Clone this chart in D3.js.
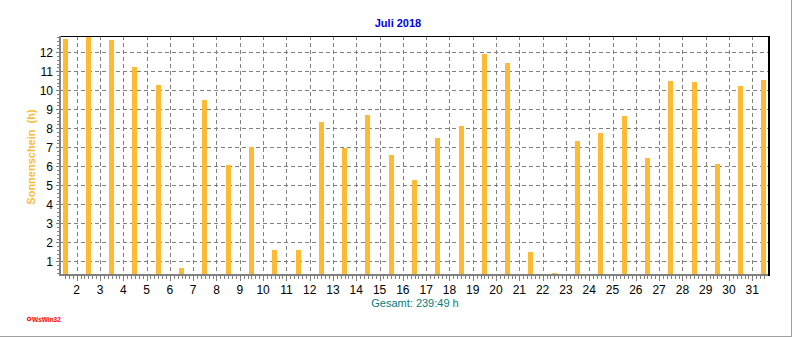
<!DOCTYPE html>
<html>
<head>
<meta charset="utf-8">
<title>Juli 2018</title>
<script src="https://cdn.jsdelivr.net/npm/d3@7"></script>
<style>
  html, body { margin: 0; padding: 0; background: #fff; }
  svg { display: block; font-family: "Liberation Sans", Arial, sans-serif; }
</style>
</head>
<body>
<svg id="chart" width="792" height="337"></svg>
<script>
// Daily sunshine duration, July 2018 (hours)
const days = [1, 2, 3, 4, 5, 6, 7, 8, 9, 10, 11, 12, 13, 14, 15, 16,
              17, 18, 19, 20, 21, 22, 23, 24, 25, 26, 27, 28, 29, 30, 31];
const sunHours = [12.70, 12.82, 12.65, 11.23, 10.28, 0.65, 9.49, 6.07, 7.00, 1.60,
                  1.60, 8.33, 6.96, 8.70, 6.60, 5.28, 7.49, 8.12, 11.91, 11.44,
                  1.49, 0.40, 7.33, 7.74, 8.65, 6.44, 10.49, 10.44, 6.12, 10.23, 10.54];
const xTickLabels = [2, 3, 4, 5, 6, 7, 8, 9, 10, 11, 12, 13, 14, 15, 16, 17,
                     18, 19, 20, 21, 22, 23, 24, 25, 26, 27, 28, 29, 30, 31];
const yTickLabels = [1, 2, 3, 4, 5, 6, 7, 8, 9, 10, 11, 12];
const titleText = "Juli 2018";
const yAxisTitle = "Sonnenschein\u00a0 (h)";
const totalText = "Gesamt: 239:49 h";
const creditText = "WsWin32";

const W = 792, H = 337;
const plot = { left: 60, right: 768, top: 36, bottom: 274 };
const barColor = "#ffba33";
const gridColor = "#808080";

const svg = d3.select("#chart");

// Day d starts at x(d); a bar for day d sits in the middle of its day
const x = d3.scaleLinear().domain([2, 31]).range([76.7, 752.3]);
const y = d3.scaleLinear().domain([0, 12]).range([280.3, 52.3]);

// outer panel edge (right and bottom)
svg.append("line").attr("x1", W - 0.5).attr("x2", W - 0.5).attr("y1", 0).attr("y2", H)
  .attr("stroke", "#a0a0a0").attr("stroke-width", 1);
svg.append("line").attr("x1", 0).attr("x2", W).attr("y1", H - 0.5).attr("y2", H - 0.5)
  .attr("stroke", "#a0a0a0").attr("stroke-width", 1);

svg.append("defs").append("clipPath").attr("id", "plotClip")
  .append("rect")
  .attr("x", plot.left).attr("y", plot.top)
  .attr("width", plot.right - plot.left).attr("height", plot.bottom - plot.top);

// dashed grid
const grid = svg.append("g").attr("shape-rendering", "crispEdges")
  .attr("stroke", gridColor).attr("stroke-width", 1).attr("stroke-dasharray", "4,3");
grid.selectAll("line.h").data(yTickLabels).join("line").attr("class", "h")
  .attr("x1", plot.left).attr("x2", plot.right)
  .attr("y1", d => Math.round(y(d)) + 0.5).attr("y2", d => Math.round(y(d)) + 0.5);
grid.selectAll("line.v").data(xTickLabels).join("line").attr("class", "v")
  .attr("x1", d => Math.round(x(d)) + 0.5).attr("x2", d => Math.round(x(d)) + 0.5)
  .attr("y1", plot.top).attr("y2", plot.bottom);

// bars
const barW = 5;
svg.append("g").attr("clip-path", "url(#plotClip)").attr("shape-rendering", "crispEdges")
  .selectAll("rect").data(days).join("rect")
  .attr("x", (d) => Math.round(x(d + 0.5) - barW / 2))
  .attr("width", barW)
  .attr("y", (d, i) => y(sunHours[i]))
  .attr("height", (d, i) => Math.max(0, plot.bottom - y(sunHours[i])))
  .attr("fill", barColor);

// frame: top and right in black, axes in grey
const frame = svg.append("g").attr("shape-rendering", "crispEdges");
frame.append("line").attr("x1", plot.left).attr("x2", plot.right + 1)
  .attr("y1", plot.top + 0.5).attr("y2", plot.top + 0.5)
  .attr("stroke", "#000").attr("stroke-width", 1);
frame.append("line").attr("x1", plot.right + 0.5).attr("x2", plot.right + 0.5)
  .attr("y1", plot.top).attr("y2", plot.bottom + 2)
  .attr("stroke", "#000").attr("stroke-width", 2);
frame.append("line").attr("x1", plot.left).attr("x2", plot.left)
  .attr("y1", plot.top).attr("y2", plot.bottom + 2)
  .attr("stroke", gridColor).attr("stroke-width", 2);
frame.append("line").attr("x1", plot.left - 1).attr("x2", plot.right)
  .attr("y1", plot.bottom + 1).attr("y2", plot.bottom + 1)
  .attr("stroke", gridColor).attr("stroke-width", 2);

// tick marks: x every 4 hours, y every 0.2 h
const xMinor = d3.range(1.5, 32, 1 / 6).filter(v => x(v) > plot.left + 2 && x(v) < plot.right - 1);
frame.selectAll("line.xt").data(xMinor).join("line").attr("class", "xt")
  .attr("x1", d => Math.round(x(d)) + 0.5).attr("x2", d => Math.round(x(d)) + 0.5)
  .attr("y1", plot.bottom + 2)
  .attr("y2", d => plot.bottom + (Math.abs(d - Math.round(d)) < 1e-6 ? 7 : 5))
  .attr("stroke", gridColor).attr("stroke-width", 1);
const yMinor = d3.range(0.4, 12.9, 0.2).filter(v => y(v) < plot.bottom - 1 && y(v) > plot.top + 1);
frame.selectAll("line.yt").data(yMinor).join("line").attr("class", "yt")
  .attr("y1", d => Math.round(y(d)) + 0.5).attr("y2", d => Math.round(y(d)) + 0.5)
  .attr("x1", d => plot.left - (Math.abs(d - Math.round(d)) < 1e-6 ? 4 : 3))
  .attr("x2", plot.left - 1)
  .attr("stroke", gridColor).attr("stroke-width", 1);

// tick labels
svg.append("g").selectAll("text").data(yTickLabels).join("text")
  .attr("x", 53).attr("y", d => y(d) + 4.5)
  .attr("text-anchor", "end").attr("font-size", 12).attr("fill", "#000")
  .text(d => d);
svg.append("g").selectAll("text").data(xTickLabels).join("text")
  .attr("x", d => x(d)).attr("y", 294)
  .attr("text-anchor", "middle").attr("font-size", 12).attr("fill", "#000")
  .text(d => d);

// titles
svg.append("text").attr("x", 398).attr("y", 26.5).attr("text-anchor", "middle")
  .attr("font-size", 11).attr("font-weight", "bold").attr("fill", "#0000ee")
  .text(titleText);
svg.append("text").attr("transform", "translate(35,157) rotate(-90)")
  .attr("text-anchor", "middle").attr("font-size", 11).attr("font-weight", "bold")
  .attr("fill", barColor).text(yAxisTitle);
svg.append("text").attr("x", 415).attr("y", 306.5).attr("text-anchor", "middle")
  .attr("font-size", 11).attr("fill", "#008080").text(totalText);

// credit
svg.append("circle").attr("cx", 29).attr("cy", 319).attr("r", 1.8)
  .attr("fill", "none").attr("stroke", "#ff0000").attr("stroke-width", 1);
svg.append("circle").attr("cx", 29).attr("cy", 319).attr("r", 0.6).attr("fill", "#ff0000");
svg.append("text").attr("x", 32).attr("y", 321.5).attr("font-size", 6.5)
  .attr("font-weight", "bold").attr("fill", "#ff0000").text(creditText);
</script>
</body>
</html>
